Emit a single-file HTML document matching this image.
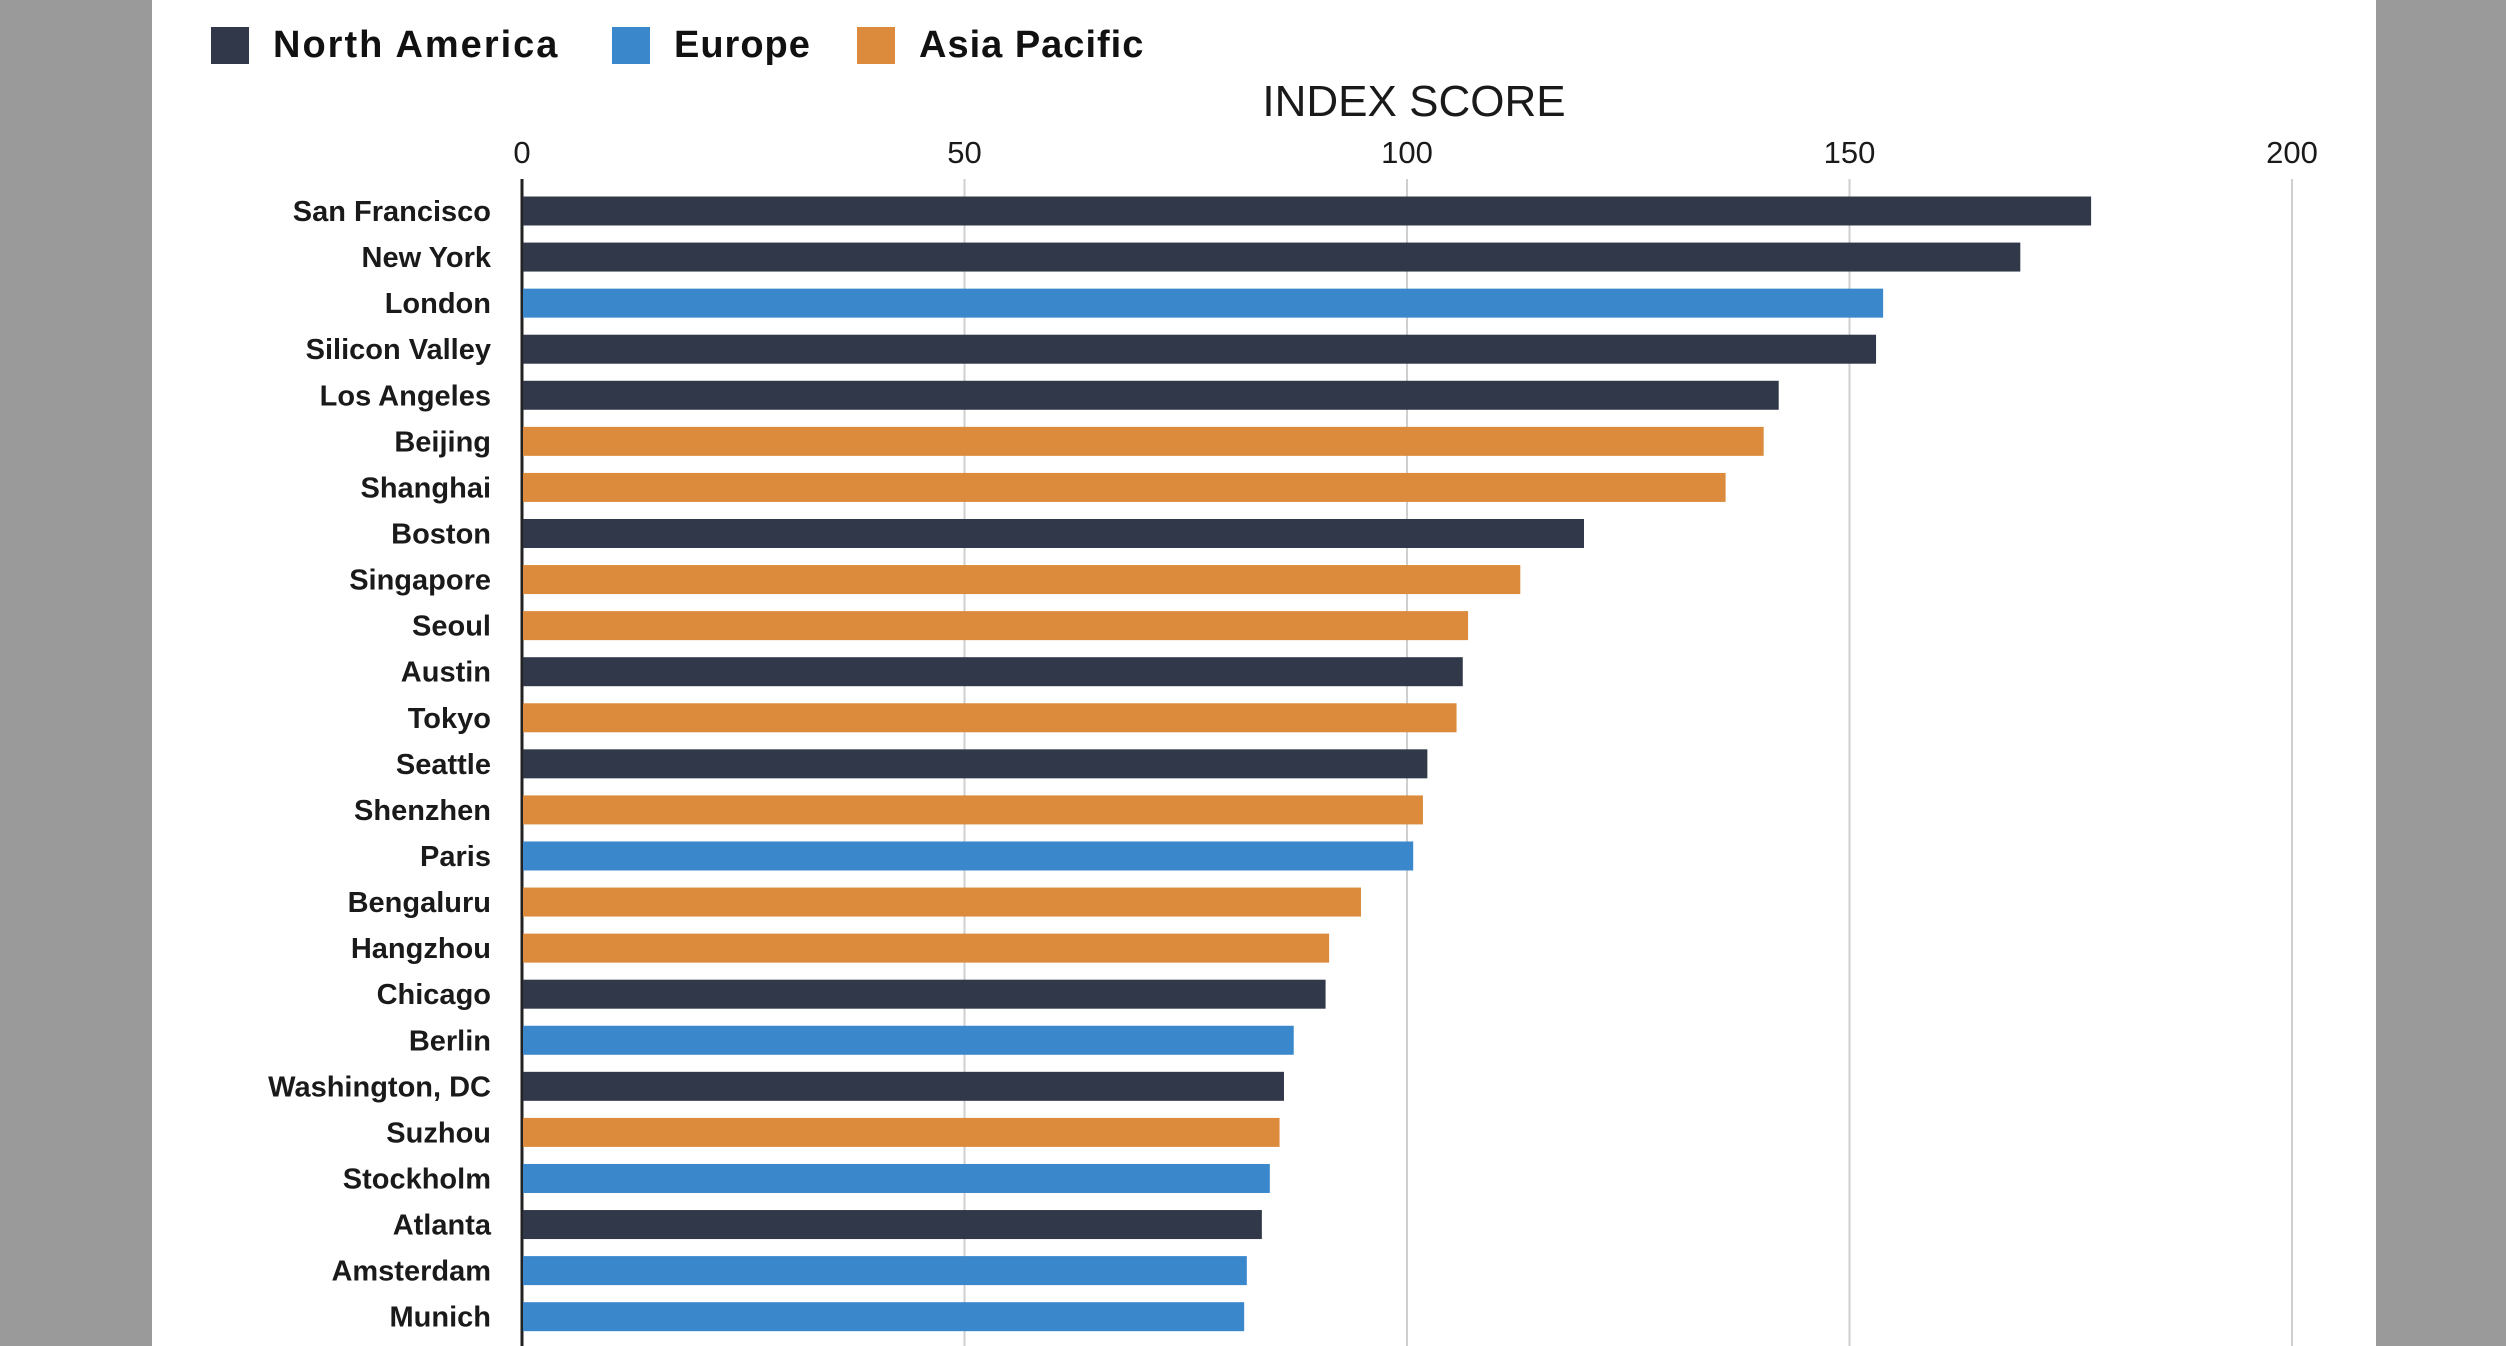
<!DOCTYPE html>
<html><head><meta charset="utf-8"><style>
html,body{margin:0;padding:0;width:2506px;height:1346px;overflow:hidden;background:#999;}
svg{display:block;font-family:"Liberation Sans",sans-serif;}
</style></head><body>
<svg id="chart" width="2506" height="1346">
<rect x="0" y="0" width="2506" height="1346" fill="#9a9a9a"/>
<rect x="152" y="0" width="2224" height="1346" fill="#ffffff"/>
<g>
<rect x="211" y="27" width="38" height="37" fill="#313849"/>
<text x="273" y="57" font-size="38" font-weight="bold" letter-spacing="2" fill="#111">North America</text>
<rect x="612" y="27" width="38" height="37" fill="#3a87cc"/>
<text x="674" y="57" font-size="38" font-weight="bold" letter-spacing="1" fill="#111">Europe</text>
<rect x="857" y="27" width="38" height="37" fill="#dc8a3c"/>
<text x="919" y="57" font-size="38" font-weight="bold" letter-spacing="1" fill="#111">Asia Pacific</text>
</g>
<text x="1414" y="116" font-size="44" text-anchor="middle" fill="#1a1a1a">INDEX SCORE</text>
<g id="grid"></g><g id="bars"></g>
</svg>
<script>
const cities=["San Francisco","New York","London","Silicon Valley","Los Angeles","Beijing","Shanghai","Boston","Singapore","Seoul","Austin","Tokyo","Seattle","Shenzhen","Paris","Bengaluru","Hangzhou","Chicago","Berlin","Washington, DC","Suzhou","Stockholm","Atlanta","Amsterdam","Munich",""];
const scores=[177.3,169.3,153.8,153,142,140.3,136,120,112.8,106.9,106.3,105.6,102.3,101.8,100.7,94.8,91.2,90.8,87.2,86.1,85.6,84.5,83.6,81.9,81.6,81];
const regions=["NA","NA","EU","NA","NA","AP","AP","NA","AP","AP","NA","AP","NA","AP","EU","AP","AP","NA","EU","NA","AP","EU","NA","EU","EU","AP"];
const ticks=[0,50,100,150,200];
const colors={NA:"#313849",EU:"#3a87cc",AP:"#dc8a3c"};
const NS="http://www.w3.org/2000/svg";
const x0=522,pxPerUnit=(2292-522)/200,rowTop=211,rowStep=46.07,barH=29;
const xs=v=>x0+v*pxPerUnit, ys=i=>rowTop+i*rowStep;
const grid=document.getElementById('grid'),bars=document.getElementById('bars');
function mk(tag,attrs,parent){const e=document.createElementNS(NS,tag);for(const k in attrs)e.setAttribute(k,attrs[k]);parent.appendChild(e);return e;}
ticks.forEach(t=>{
 const l=mk('line',{x1:xs(t),x2:xs(t),y1:179,y2:1346,stroke:t===0?'#222':'#cfcfcf','stroke-width':t===0?3:2},grid);
 
 
 const tx=mk('text',{x:xs(t),y:163,'font-size':31,'text-anchor':'middle',fill:'#1a1a1a'},grid);
 tx.textContent=t;
 
 
});
cities.forEach((c,i)=>{
 const r=mk('rect',{x:xs(0)+1,y:ys(i)-barH/2,width:xs(scores[i])-xs(0)-1,height:barH,fill:colors[regions[i]]},bars);
 
 
 if(c){
 const t=mk('text',{x:491,y:ys(i)+10,'font-size':29,'font-weight':'bold','text-anchor':'end',fill:'#1a1a1a'},bars);
 t.textContent=c;
 
 
 }
});
</script>
</body></html>
